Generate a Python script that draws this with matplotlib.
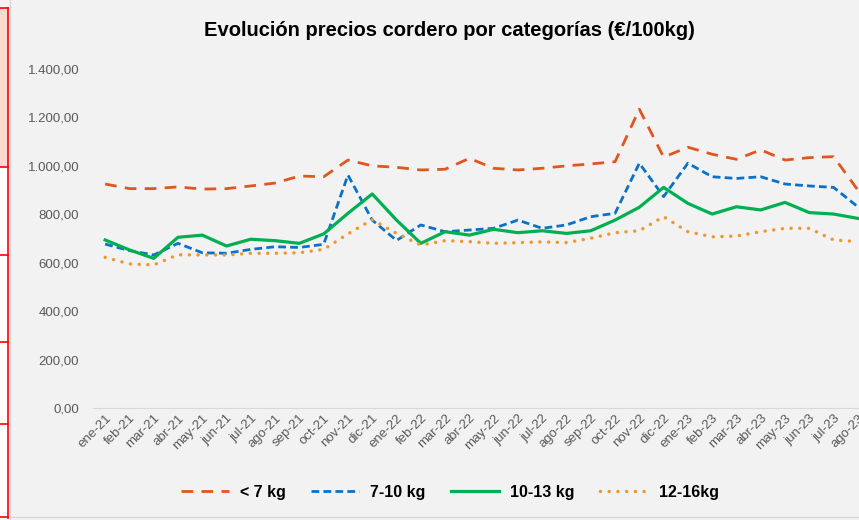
import matplotlib
matplotlib.use("Agg")
import matplotlib.pyplot as plt
from matplotlib.patches import Rectangle
from matplotlib.lines import Line2D
import numpy as np

months = ["ene-21", "feb-21", "mar-21", "abr-21", "may-21", "jun-21", "jul-21", "ago-21",
          "sep-21", "oct-21", "nov-21", "dic-21", "ene-22", "feb-22", "mar-22", "abr-22",
          "may-22", "jun-22", "jul-22", "ago-22", "sep-22", "oct-22", "nov-22", "dic-22",
          "ene-23", "feb-23", "mar-23", "abr-23", "may-23", "jun-23", "jul-23", "ago-23"]

menos_7 = [925, 906, 906, 913, 904, 906, 917, 929, 958, 955, 1024, 1000,
           994, 983, 986, 1031, 990, 983, 990, 1000, 1008, 1017, 1234, 1036,
           1077, 1048, 1027, 1066, 1024, 1034, 1038, 900]
de_7_10 = [677, 650, 632, 680, 641, 639, 655, 666, 663, 676, 962, 776,
           692, 756, 728, 735, 742, 776, 742, 756, 790, 804, 1011, 873,
           1011, 955, 948, 955, 925, 917, 911, 831]
de_10_13 = [694, 653, 618, 705, 714, 669, 697, 691, 680, 719, 804, 884,
            776, 680, 728, 714, 738, 724, 732, 721, 732, 776, 829, 911,
            845, 801, 831, 818, 849, 807, 801, 783]
de_12_16 = [622, 595, 591, 633, 632, 632, 639, 639, 641, 655, 719, 778,
            721, 673, 691, 687, 680, 683, 686, 683, 701, 724, 732, 790,
            728, 707, 710, 728, 742, 742, 694, 687]

yticks = [0, 200, 400, 600, 800, 1000, 1200, 1400]
ytick_labels = ["0,00", "200,00", "400,00", "600,00", "800,00", "1.000,00", "1.200,00", "1.400,00"]

BG = "#f2f2f2"
plt.rcParams["font.family"] = ["Liberation Sans", "DejaVu Sans"]

fig = plt.figure(figsize=(8.59, 5.20), dpi=100, facecolor=BG)
W, H = 859, 520

# spreadsheet cells visible at the left edge
fig.patches.append(Rectangle((0, 1 - 166 / H), 8 / W, 158 / H, transform=fig.transFigure,
                             facecolor="#f9d9d0", edgecolor="none", zorder=0))
fig.patches.append(Rectangle((0, 1 - 518 / H), 8 / W, 351 / H, transform=fig.transFigure,
                             facecolor="white", edgecolor="none", zorder=0))
fig.add_artist(Line2D([8 / W, 8 / W], [1 - 518 / H, 1 - 8 / H], transform=fig.transFigure,
                      color="#ff0000", lw=1.2))
for yy in (8, 167, 255, 342, 424, 517):
    fig.add_artist(Line2D([0, 8 / W], [1 - yy / H] * 2, transform=fig.transFigure,
                          color="#ff0000", lw=1.2))
fig.add_artist(Line2D([9.5 / W, 9.5 / W], [0, 1], transform=fig.transFigure,
                      color="#d9d9d9", lw=1))
fig.add_artist(Line2D([9.5 / W, 1], [1 - 517 / H] * 2, transform=fig.transFigure,
                      color="#d9d9d9", lw=1))

ax = fig.add_axes([93 / W, 1 - 408 / H, (870 - 93) / W, (408 - 69) / H])
ax.set_facecolor(BG)
x = np.arange(len(months))

lw = 2.0
ax.plot(x, menos_7, color="#E0561F", lw=lw, dashes=(4.2, 3.0), label="< 7 kg")
ax.plot(x, de_7_10, color="#0A72C6", lw=lw, dashes=(2.8, 1.5), label="7-10 kg")
ax.plot(x, de_10_13, color="#00B050", lw=lw + 0.3, label="10-13 kg")
ax.plot(x, de_12_16, color="#F0962A", lw=lw + 0.5, dashes=(0.01, 2.5),
        dash_capstyle="round", label="12-16kg")

ax.set_xlim(-0.5, len(months) - 0.5)
ax.set_ylim(0, 1400)
ax.set_yticks(yticks)
ax.set_yticklabels(ytick_labels)
ax.set_xticks(x)
ax.set_xticklabels(months, rotation=45, ha="right", va="top", rotation_mode="anchor")
ax.tick_params(axis="both", length=0, colors="#595959", labelsize=9.5)
ax.tick_params(axis="x", pad=3)
ax.tick_params(axis="y", pad=10)
for s in ("top", "right", "left"):
    ax.spines[s].set_visible(False)
ax.spines["bottom"].set_color("#d9d9d9")

fig.text(449 / W, 1 - 30 / H, "Evolución precios cordero por categorías (€/100kg)",
         ha="center", va="center", fontsize=14.5, fontweight="bold", color="black")

leg = fig.legend(loc="center", bbox_to_anchor=(450 / W, 1 - 492 / H), ncol=4, frameon=False,
                 prop={"weight": "bold", "size": 11.5}, handlelength=3.0, columnspacing=1.6,
                 handletextpad=0.7)

fig.savefig("out.png", dpi=100, facecolor=BG)
